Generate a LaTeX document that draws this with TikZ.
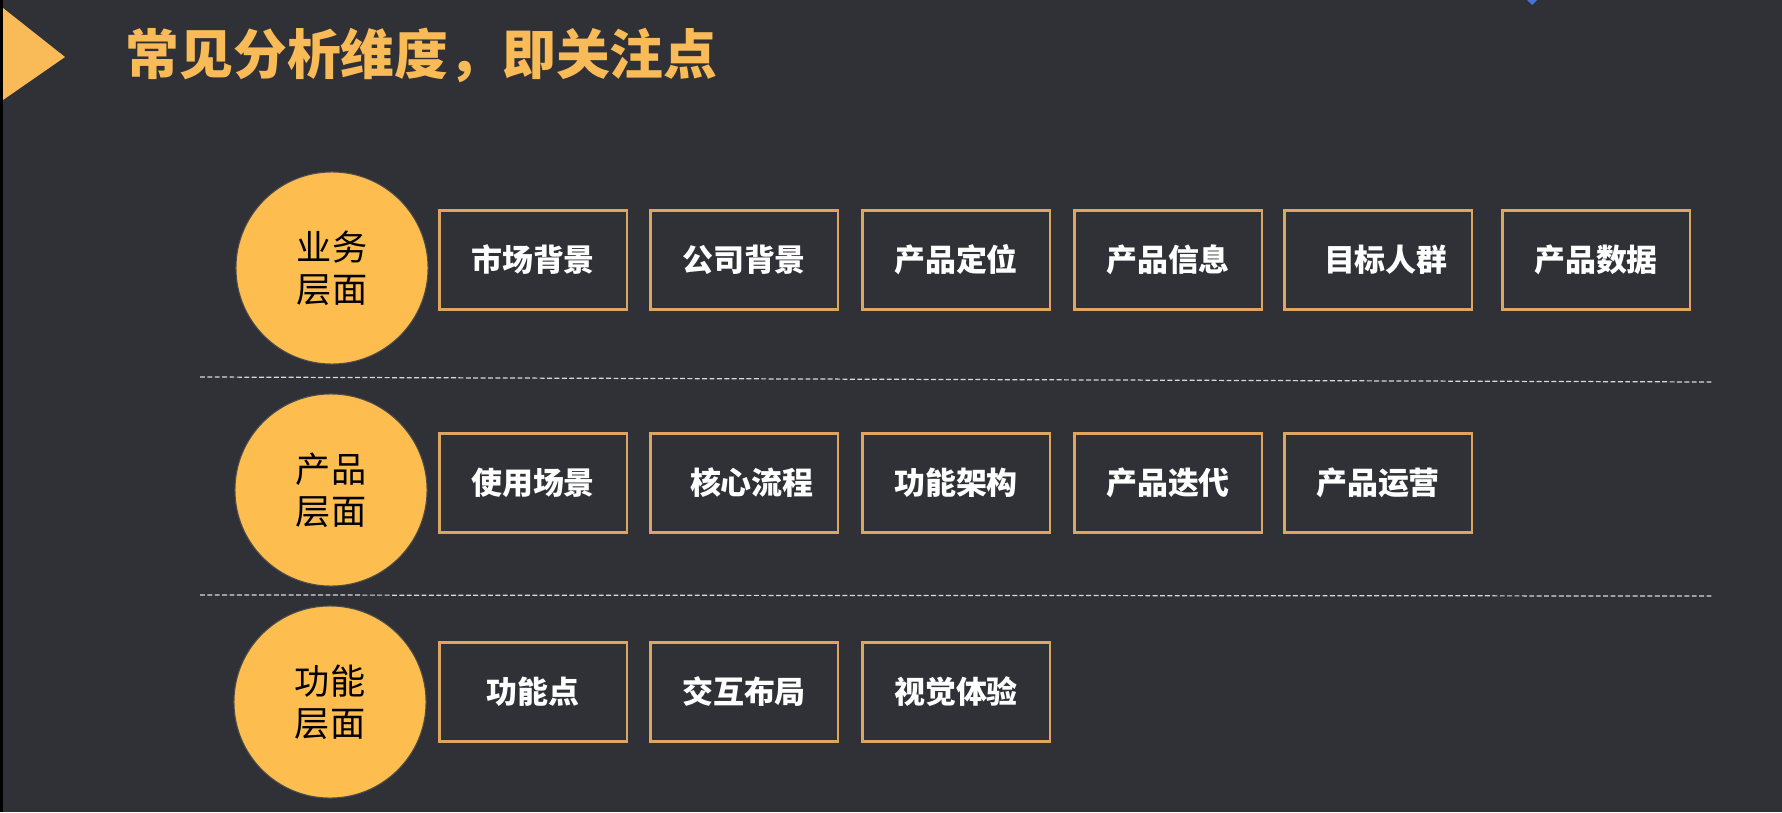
\documentclass[tikz,border=0pt]{standalone}
\usepackage{fontspec}
\newfontfamily\cjk{Noto Sans CJK SC}
\usetikzlibrary{positioning}
\definecolor{slidebg}{HTML}{303136}
\definecolor{layerorange}{HTML}{FDBD4F}
\definecolor{titleorange}{HTML}{F8BB57}
\definecolor{boxedge}{HTML}{DDA560}
\definecolor{markblue}{HTML}{4A72DA}

\begin{document}
\begin{tikzpicture}[x=0.01cm, y=-0.01cm]
    \tikzset{layer/.style={circle, fill=layerorange, draw=black!70, line width=0.3pt,
                           minimum size=1.92cm, inner sep=0pt, align=center,
                           text=black, font=\cjk\fontsize{10}{12}\selectfont},
             item/.style={rectangle, draw=boxedge, line width=0.6pt,
                          minimum width=1.87cm, minimum height=0.99cm,
                          text=white, font=\cjk\bfseries\fontsize{8.8}{10}\selectfont},
             sepline/.style={white!85!black, line width=0.35pt, dash pattern=on 1.4pt off 0.7pt}}
    \useasboundingbox (0,0) rectangle (1782,812);
    \fill[slidebg] (0,0) rectangle (1782,812);
    \fill[black] (0,0) rectangle (3,812);
    \fill[markblue] (1532,5) -- (1543,-6) -- (1532,-17) -- (1521,-6) -- cycle;
    % title
    \fill[titleorange] (3,8) -- (65,57) -- (3,100) -- cycle;
    \node[anchor=west, inner sep=0pt, text=titleorange,
          font=\cjk\bfseries\fontsize{15.3}{18}\selectfont] (title) at (125,55) {常见分析维度，即关注点};
    % layers
    \node[layer] (biz)  at (332,268) {业务\\层面};
    \node[layer] (prod) at (331,490) {产品\\层面};
    \node[layer] (func) at (330,702) {功能\\层面};
    % items
    \foreach \x/\n/\t in {533/mkt/市场背景, 744/corp/公司背景, 956/pos/产品定位,
                          1168/info/产品信息, 1378/user/\hspace*{4.5pt}目标人群, 1596/data/产品数据}
      \node[item] (\n) at (\x,260) {\t};
    \foreach \x/\n/\t in {533/scene/使用场景, 744/flow/\hspace*{4.5pt}核心流程, 956/arch/功能架构,
                          1168/iter/产品迭代, 1378/ops/产品运营}
      \node[item] (\n) at (\x,483) {\t};
    \foreach \x/\n/\t in {533/feat/功能点, 744/ui/交互布局, 956/vis/视觉体验}
      \node[item] (\n) at (\x,692) {\t};
    % separators
    \draw[sepline] (200,377) -- (1712,382);
    \draw[sepline] (200,595) -- (1712,596);
\end{tikzpicture}
\end{document}
